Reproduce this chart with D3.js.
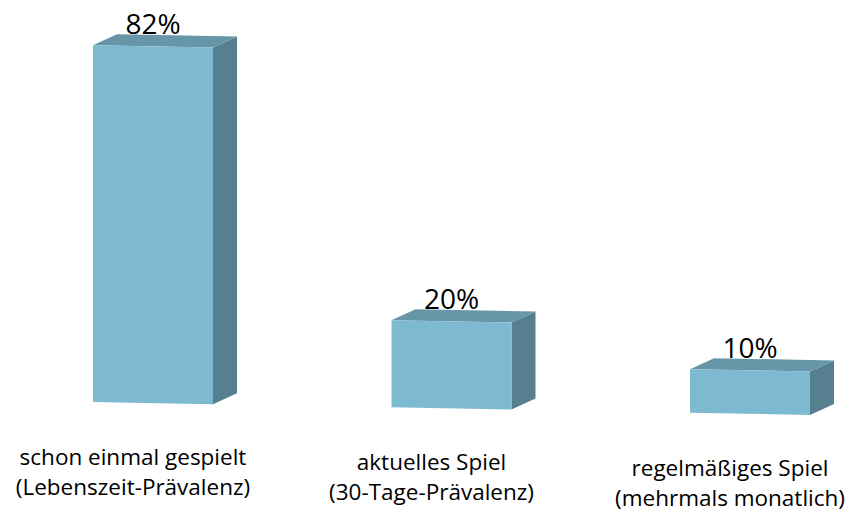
<!DOCTYPE html>
<html>
<head>
<meta charset="utf-8">
<script src="https://cdn.jsdelivr.net/npm/d3@7"></script>
<style>
  body { margin: 0; background: #fff; }
  text { font-family: "Open Sans", "Liberation Sans", sans-serif; fill: #000; }
</style>
</head>
<body>
<div id="chart"></div>
<script>
//data
var categories = ["schon einmal gespielt", "aktuelles Spiel", "regelmäßiges Spiel"];
var subLabels = ["(Lebenszeit-Prävalenz)", "(30-Tage-Prävalenz)", "(mehrmals monatlich)"];
var values = [82, 20, 10];
var valueLabels = ["82%", "20%", "10%"];

//size and layout
var width = 856, height = 517;
var baseY = 402,      // bottom of first bar (front left corner)
  tilt = 0.018,       // slight perspective slope of the floor
  depthX = 24, depthY = -11;

var colors = { front: "#7db9d0", top: "#6796a9", side: "#56808f" };

var x = d3.scaleBand()
  .domain(categories)
  .range([93, 810])
  .paddingInner(0.598)
  .paddingOuter(0);

var h = d3.scaleLinear() //percent -> bar height
  .domain([0, 100])
  .range([0, 435]);

function floorY(px) { return baseY + (px - 93) * tilt; }

var svg = d3.select("#chart").append("svg")
  .attr("width", width)
  .attr("height", height);

var data = categories.map(function(c, i) {
  return { cat: c, sub: subLabels[i], value: values[i], label: valueLabels[i] };
});

var bars = svg.selectAll(".bar")
  .data(data)
  .enter().append("g")
    .attr("class", "bar");

function pts(arr) { return arr.map(function(p) { return p.join(","); }).join(" "); }

function corners(d) {
  var x0 = x(d.cat), x1 = x0 + x.bandwidth();
  var b0 = floorY(x0), b1 = floorY(x1);
  var hh = h(d.value);
  return { x0: x0, x1: x1, b0: b0, b1: b1, t0: b0 - hh, t1: b1 - hh };
}

//side face
bars.append("polygon")
  .attr("fill", colors.side)
  .attr("points", function(d) {
    var c = corners(d);
    return pts([[c.x1, c.t1], [c.x1 + depthX, c.t1 + depthY],
                [c.x1 + depthX, c.b1 + depthY], [c.x1, c.b1]]);
  });

//top face
bars.append("polygon")
  .attr("fill", colors.top)
  .attr("points", function(d) {
    var c = corners(d);
    return pts([[c.x0, c.t0], [c.x0 + depthX, c.t0 + depthY],
                [c.x1 + depthX, c.t1 + depthY], [c.x1, c.t1]]);
  });

//front face
bars.append("polygon")
  .attr("fill", colors.front)
  .attr("points", function(d) {
    var c = corners(d);
    return pts([[c.x0, c.t0], [c.x1, c.t1], [c.x1, c.b1], [c.x0, c.b0]]);
  });

//value labels
bars.append("text")
  .attr("x", function(d) { return x(d.cat) + x.bandwidth() / 2; })
  .attr("y", function(d) { var c = corners(d); return (c.t0 + c.t1) / 2 - 12; })
  .attr("text-anchor", "middle")
  .attr("font-size", 28)
  .text(function(d) { return d.label; });

//category labels, two separate lines
var labelX = function(d) { return x(d.cat) + x.bandwidth() / 2 - 20; };

bars.append("text")
  .attr("x", labelX)
  .attr("y", function(d) { return floorY(x(d.cat)) + 63; })
  .attr("text-anchor", "middle")
  .attr("font-size", 22.5)
  .text(function(d) { return d.cat; });

bars.append("text")
  .attr("x", labelX)
  .attr("y", function(d) { return floorY(x(d.cat)) + 93; })
  .attr("text-anchor", "middle")
  .attr("font-size", 22.5)
  .text(function(d) { return d.sub; });
</script>
</body>
</html>
